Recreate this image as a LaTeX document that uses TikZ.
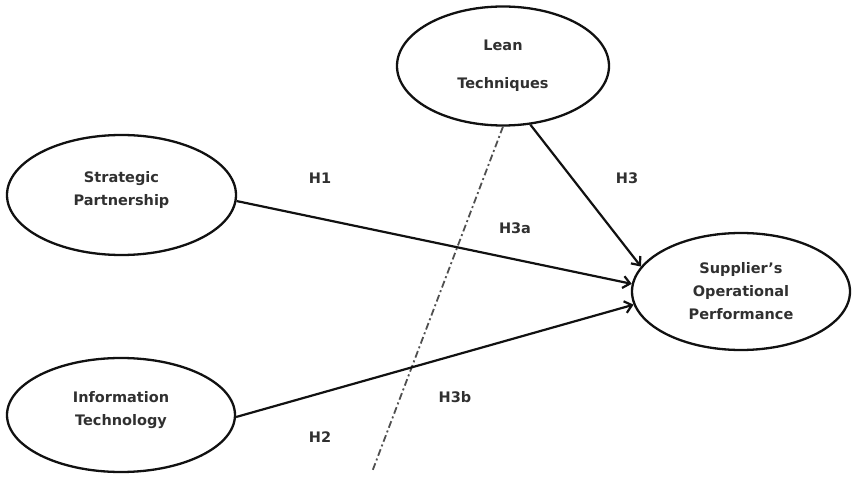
\documentclass[tikz,border=0pt]{standalone}
\usepackage{fontspec}
\setmainfont{DejaVu Sans}
\usetikzlibrary{shapes.geometric,arrows.meta}
\definecolor{txt}{HTML}{303030}
\definecolor{ln}{HTML}{111111}
\definecolor{dd}{HTML}{505050}
\tikzset{
  construct/.style={draw=ln, line width=2.3pt, ellipse, inner sep=0pt, align=center,
    font=\bfseries\fontsize{14.5}{23}\selectfont, text=txt},
  hyp/.style={font=\bfseries\fontsize{14.5}{18}\selectfont, text=txt, inner sep=0pt},
  path/.style={draw=ln, line width=2.2pt, -{Straight Barb[length=7pt,width=12pt,line width=2.2pt]}},
  divider/.style={draw=dd, line width=1.8pt, dash pattern=on 7pt off 3pt on 2pt off 3pt}
}
\begin{document}
\begin{tikzpicture}[x=1pt,y=-1pt]
\useasboundingbox (0,0) rectangle (852,478);
\node[construct, minimum width=229pt, minimum height=120pt, text depth=14pt] (sp) at (121.5,195) {Strategic\\Partnership};
\node[construct, minimum width=228pt, minimum height=114pt, text depth=13pt] (it) at (121,415) {Information\\Technology};
\node[construct, minimum width=212pt, minimum height=119pt, font=\bfseries\fontsize{14.5}{38}\selectfont] (lt) at (503,66) {Lean\\Techniques};
\node[construct, minimum width=218pt, minimum height=117pt] (sop) at (741,291.5) {Supplier's\\Operational\\Performance};
\coordinate (dend) at (372,472);
\draw[divider] (lt.south) -- (dend);
\draw[path] (sp.-3) -- (sop.176);
\draw[path] (it.-1) -- (sop.187);
\draw[path] (lt.-65) -- (sop.166);
\node[hyp] (h1) at (320,178) {H1};
\node[hyp] (h2) at (320,437) {H2};
\node[hyp] (h3) at (627,178) {H3};
\node[hyp] (h3a) at (515,228) {H3a};
\node[hyp] (h3b) at (455,397) {H3b};
\end{tikzpicture}
\end{document}
